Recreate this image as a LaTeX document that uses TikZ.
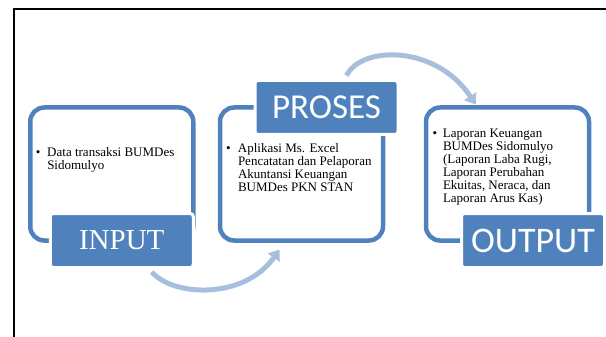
\documentclass[tikz,border=0pt]{standalone}
\usepackage{fontspec}
\setmainfont{Liberation Serif}
\newfontfamily\calibri{Carlito}
\usetikzlibrary{positioning, arrows.meta}
\definecolor{boxblue}{HTML}{4F81BD}
\definecolor{arrowblue}{HTML}{A7BFDE}

\begin{document}
\begin{tikzpicture}[x=1pt, y=-1pt,
  every node/.style = {align=left, outer sep=0pt},
  outline/.style = {draw=boxblue, line width=4.5pt, rounded corners=14pt,
    minimum width=163pt, minimum height=133pt},
  tag/.style = {fill=boxblue, draw=white, line width=3pt, rounded corners=3pt,
    minimum width=143pt, minimum height=54pt, text=white, inner sep=0pt},
  item/.style = {inner sep=0pt, font=\fontsize{13}{13}\selectfont},
  flow/.style = {draw=arrowblue, line width=5pt, -{Triangle[width=14pt,length=10pt]}}]
 \useasboundingbox (0,0) rectangle (606,337);
 \draw[line width=2pt] (620,9.5) -- (13.5,9.5) -- (13.5,350);

 \node[outline] (inbox) at (111.75,174) {};
 \node[outline, right=26.75pt of inbox] (probox) {};
 \node[outline, right=43pt of probox] (outbox) {};

 \node[tag, anchor=east, font=\fontsize{29}{29}\selectfont] (intag) at (inbox.south east) {INPUT};
 \node[tag, anchor=east, font=\calibri\fontsize{35}{35}\selectfont] (protag)
   at ([xshift=15pt]probox.north east) {PROSES};
 \node[tag, anchor=east, font=\calibri\fontsize{36}{36}\selectfont] (outtag)
   at ([xshift=15.5pt]outbox.south east) {OUTPUT};

 \node[item, anchor=base west] (intext) at ([shift={(5.5pt,-49pt)}]inbox.north west)
   {\begin{tabular}[t]{@{}p{11.5pt}@{}l@{}}
     \textbullet & Data transaksi BUMDes\\
                 & Sidomulyo
   \end{tabular}};
 \node[item, anchor=base west] (protext) at ([shift={(6pt,-45.5pt)}]probox.north west)
   {\begin{tabular}[t]{@{}p{12pt}@{}l@{}}
     \textbullet & Aplikasi Ms. Excel\\
                 & Pencatatan dan Pelaporan\\
                 & Akuntansi Keuangan\\
                 & BUMDes PKN STAN
   \end{tabular}};
 \node[item, anchor=base west] (outtext) at ([shift={(6.5pt,-30.5pt)}]outbox.north west)
   {\begin{tabular}[t]{@{}p{10.5pt}@{}l@{}}
     \textbullet & Laporan Keuangan\\
                 & BUMDes Sidomulyo\\
                 & (Laporan Laba Rugi,\\
                 & Laporan Perubahan\\
                 & Ekuitas, Neraca, dan\\
                 & Laporan Arus Kas)
   \end{tabular}};

 % curved arrows between the steps
 \coordinate (a1s) at ([shift={(30pt,-4.5pt)}]intag.south);
 \coordinate (a1e) at ([shift={(-22pt,-9pt)}]probox.south);
 \coordinate (a2s) at ([shift={(20pt,5pt)}]protag.north);
 \coordinate (a2e) at ([shift={(-31.75pt,3pt)}]outbox.north);
 \draw[flow] (a1s) .. controls +(22,25) and +(-35,50) .. (a1e);
 \draw[flow] (a2s) .. controls +(15,-30) and +(-40,-60) .. (a2e);
\end{tikzpicture}
\end{document}
